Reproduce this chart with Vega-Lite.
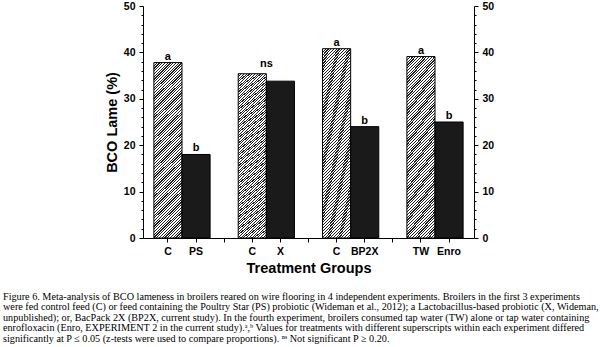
{
  "$schema": "https://vega.github.io/schema/vega-lite/v6.json",
  "width": 331,
  "height": 232,
  "autosize": {"type": "none"},
  "padding": {"left": 143, "top": 6, "right": 126, "bottom": 109},
  "background": "white",
  "config": {
    "view": {"stroke": null},
    "font": "Liberation Sans",
    "axis": {
      "domainColor": "black",
      "tickColor": "black",
      "labelColor": "black",
      "titleColor": "black",
      "labelFont": "Liberation Sans",
      "titleFont": "Liberation Sans",
      "labelFontWeight": "bold",
      "titleFontWeight": "bold",
      "labelFontSize": 10.5,
      "titleFontSize": 14.5,
      "grid": false,
      "domainWidth": 1,
      "tickWidth": 1
    }
  },
  "title": {
    "text": [
      "Figure 6. Meta-analysis of BCO lameness in broilers reared on wire flooring in 4 independent experiments. Broilers in the first 3 experiments",
      "were fed control feed (C) or feed containing the Poultry Star (PS) probiotic (Wideman et al., 2012); a Lactobacillus-based probiotic (X, Wideman,",
      "unpublished); or, BacPack 2X (BP2X, current study). In the fourth experiment, broilers consumed tap water (TW) alone or tap water containing",
      "enrofloxacin (Enro, EXPERIMENT 2 in the current study).ᵃ,ᵇ Values for treatments with different superscripts within each experiment differed",
      "significantly at P ≤ 0.05 (z-tests were used to compare proportions). ⁿˢ Not significant P ≥ 0.20."
    ],
    "orient": "bottom",
    "anchor": "start",
    "frame": "group",
    "font": "Liberation Serif",
    "fontSize": 10.2,
    "fontWeight": "normal",
    "color": "black",
    "lineHeight": 10.4,
    "offset": 17,
    "dx": -140
  },
  "data": {
    "values": [
      {"slot": "C1", "group": "control", "value": 37.8, "sig": "a"},
      {"slot": "PS", "group": "treated", "value": 18.0, "sig": "b"},
      {"slot": "C2", "group": "control", "value": 35.4, "sig": "ns"},
      {"slot": "X", "group": "treated", "value": 33.8, "sig": ""},
      {"slot": "C3", "group": "control", "value": 40.8, "sig": "a"},
      {"slot": "BP2X", "group": "treated", "value": 24.0, "sig": "b"},
      {"slot": "TW", "group": "control", "value": 39.1, "sig": "a"},
      {"slot": "Enro", "group": "treated", "value": 25.0, "sig": "b"}
    ]
  },
  "encoding": {
    "x": {
      "field": "slot",
      "type": "nominal",
      "sort": null,
      "scale": {
        "domain": ["C1", "PS", "g1", "C2", "X", "g2", "C3", "BP2X", "g3", "TW", "Enro"],
        "paddingInner": 0,
        "paddingOuter": 0.387
      },
      "axis": {
        "title": "Treatment Groups",
        "labelAngle": 0,
        "labelExpr": "indexof(datum.value,'g')==0 ? '' : (indexof(datum.value,'C')==0 ? 'C' : datum.value)",
        "tickSize": 4,
        "labelPadding": 4,
        "titlePadding": 5
      }
    }
  },
  "layer": [
    {
      "transform": [{"filter": "datum.group == 'control'"}],
      "mark": {
        "type": "bar",
        "stroke": "black",
        "strokeWidth": 1,
        "fill": {
          "gradient": "linear",
          "x1": 0, "y1": 0, "x2": 0.1924, "y2": 1.212,
          "stops": [
            {"offset":0,"color":"#222"},{"offset":0.0055,"color":"#222"},{"offset":0.0055,"color":"#fff"},{"offset":0.0125,"color":"#fff"},
            {"offset":0.0125,"color":"#222"},{"offset":0.018,"color":"#222"},{"offset":0.018,"color":"#fff"},{"offset":0.025,"color":"#fff"},
            {"offset":0.025,"color":"#222"},{"offset":0.0305,"color":"#222"},{"offset":0.0305,"color":"#fff"},{"offset":0.0375,"color":"#fff"},
            {"offset":0.0375,"color":"#222"},{"offset":0.043,"color":"#222"},{"offset":0.043,"color":"#fff"},{"offset":0.05,"color":"#fff"},
            {"offset":0.05,"color":"#222"},{"offset":0.0555,"color":"#222"},{"offset":0.0555,"color":"#fff"},{"offset":0.0625,"color":"#fff"},
            {"offset":0.0625,"color":"#222"},{"offset":0.068,"color":"#222"},{"offset":0.068,"color":"#fff"},{"offset":0.075,"color":"#fff"},
            {"offset":0.075,"color":"#222"},{"offset":0.0805,"color":"#222"},{"offset":0.0805,"color":"#fff"},{"offset":0.0875,"color":"#fff"},
            {"offset":0.0875,"color":"#222"},{"offset":0.093,"color":"#222"},{"offset":0.093,"color":"#fff"},{"offset":0.1,"color":"#fff"},
            {"offset":0.1,"color":"#222"},{"offset":0.1055,"color":"#222"},{"offset":0.1055,"color":"#fff"},{"offset":0.1125,"color":"#fff"},
            {"offset":0.1125,"color":"#222"},{"offset":0.118,"color":"#222"},{"offset":0.118,"color":"#fff"},{"offset":0.125,"color":"#fff"},
            {"offset":0.125,"color":"#222"},{"offset":0.1305,"color":"#222"},{"offset":0.1305,"color":"#fff"},{"offset":0.1375,"color":"#fff"},
            {"offset":0.1375,"color":"#222"},{"offset":0.143,"color":"#222"},{"offset":0.143,"color":"#fff"},{"offset":0.15,"color":"#fff"},
            {"offset":0.15,"color":"#222"},{"offset":0.1555,"color":"#222"},{"offset":0.1555,"color":"#fff"},{"offset":0.1625,"color":"#fff"},
            {"offset":0.1625,"color":"#222"},{"offset":0.168,"color":"#222"},{"offset":0.168,"color":"#fff"},{"offset":0.175,"color":"#fff"},
            {"offset":0.175,"color":"#222"},{"offset":0.1805,"color":"#222"},{"offset":0.1805,"color":"#fff"},{"offset":0.1875,"color":"#fff"},
            {"offset":0.1875,"color":"#222"},{"offset":0.193,"color":"#222"},{"offset":0.193,"color":"#fff"},{"offset":0.2,"color":"#fff"},
            {"offset":0.2,"color":"#222"},{"offset":0.2055,"color":"#222"},{"offset":0.2055,"color":"#fff"},{"offset":0.2125,"color":"#fff"},
            {"offset":0.2125,"color":"#222"},{"offset":0.218,"color":"#222"},{"offset":0.218,"color":"#fff"},{"offset":0.225,"color":"#fff"},
            {"offset":0.225,"color":"#222"},{"offset":0.2305,"color":"#222"},{"offset":0.2305,"color":"#fff"},{"offset":0.2375,"color":"#fff"},
            {"offset":0.2375,"color":"#222"},{"offset":0.243,"color":"#222"},{"offset":0.243,"color":"#fff"},{"offset":0.25,"color":"#fff"},
            {"offset":0.25,"color":"#222"},{"offset":0.2555,"color":"#222"},{"offset":0.2555,"color":"#fff"},{"offset":0.2625,"color":"#fff"},
            {"offset":0.2625,"color":"#222"},{"offset":0.268,"color":"#222"},{"offset":0.268,"color":"#fff"},{"offset":0.275,"color":"#fff"},
            {"offset":0.275,"color":"#222"},{"offset":0.2805,"color":"#222"},{"offset":0.2805,"color":"#fff"},{"offset":0.2875,"color":"#fff"},
            {"offset":0.2875,"color":"#222"},{"offset":0.293,"color":"#222"},{"offset":0.293,"color":"#fff"},{"offset":0.3,"color":"#fff"},
            {"offset":0.3,"color":"#222"},{"offset":0.3055,"color":"#222"},{"offset":0.3055,"color":"#fff"},{"offset":0.3125,"color":"#fff"},
            {"offset":0.3125,"color":"#222"},{"offset":0.318,"color":"#222"},{"offset":0.318,"color":"#fff"},{"offset":0.325,"color":"#fff"},
            {"offset":0.325,"color":"#222"},{"offset":0.3305,"color":"#222"},{"offset":0.3305,"color":"#fff"},{"offset":0.3375,"color":"#fff"},
            {"offset":0.3375,"color":"#222"},{"offset":0.343,"color":"#222"},{"offset":0.343,"color":"#fff"},{"offset":0.35,"color":"#fff"},
            {"offset":0.35,"color":"#222"},{"offset":0.3555,"color":"#222"},{"offset":0.3555,"color":"#fff"},{"offset":0.3625,"color":"#fff"},
            {"offset":0.3625,"color":"#222"},{"offset":0.368,"color":"#222"},{"offset":0.368,"color":"#fff"},{"offset":0.375,"color":"#fff"},
            {"offset":0.375,"color":"#222"},{"offset":0.3805,"color":"#222"},{"offset":0.3805,"color":"#fff"},{"offset":0.3875,"color":"#fff"},
            {"offset":0.3875,"color":"#222"},{"offset":0.393,"color":"#222"},{"offset":0.393,"color":"#fff"},{"offset":0.4,"color":"#fff"},
            {"offset":0.4,"color":"#222"},{"offset":0.4055,"color":"#222"},{"offset":0.4055,"color":"#fff"},{"offset":0.4125,"color":"#fff"},
            {"offset":0.4125,"color":"#222"},{"offset":0.418,"color":"#222"},{"offset":0.418,"color":"#fff"},{"offset":0.425,"color":"#fff"},
            {"offset":0.425,"color":"#222"},{"offset":0.4305,"color":"#222"},{"offset":0.4305,"color":"#fff"},{"offset":0.4375,"color":"#fff"},
            {"offset":0.4375,"color":"#222"},{"offset":0.443,"color":"#222"},{"offset":0.443,"color":"#fff"},{"offset":0.45,"color":"#fff"},
            {"offset":0.45,"color":"#222"},{"offset":0.4555,"color":"#222"},{"offset":0.4555,"color":"#fff"},{"offset":0.4625,"color":"#fff"},
            {"offset":0.4625,"color":"#222"},{"offset":0.468,"color":"#222"},{"offset":0.468,"color":"#fff"},{"offset":0.475,"color":"#fff"},
            {"offset":0.475,"color":"#222"},{"offset":0.4805,"color":"#222"},{"offset":0.4805,"color":"#fff"},{"offset":0.4875,"color":"#fff"},
            {"offset":0.4875,"color":"#222"},{"offset":0.493,"color":"#222"},{"offset":0.493,"color":"#fff"},{"offset":0.5,"color":"#fff"},
            {"offset":0.5,"color":"#222"},{"offset":0.5055,"color":"#222"},{"offset":0.5055,"color":"#fff"},{"offset":0.5125,"color":"#fff"},
            {"offset":0.5125,"color":"#222"},{"offset":0.518,"color":"#222"},{"offset":0.518,"color":"#fff"},{"offset":0.525,"color":"#fff"},
            {"offset":0.525,"color":"#222"},{"offset":0.5305,"color":"#222"},{"offset":0.5305,"color":"#fff"},{"offset":0.5375,"color":"#fff"},
            {"offset":0.5375,"color":"#222"},{"offset":0.543,"color":"#222"},{"offset":0.543,"color":"#fff"},{"offset":0.55,"color":"#fff"},
            {"offset":0.55,"color":"#222"},{"offset":0.5555,"color":"#222"},{"offset":0.5555,"color":"#fff"},{"offset":0.5625,"color":"#fff"},
            {"offset":0.5625,"color":"#222"},{"offset":0.568,"color":"#222"},{"offset":0.568,"color":"#fff"},{"offset":0.575,"color":"#fff"},
            {"offset":0.575,"color":"#222"},{"offset":0.5805,"color":"#222"},{"offset":0.5805,"color":"#fff"},{"offset":0.5875,"color":"#fff"},
            {"offset":0.5875,"color":"#222"},{"offset":0.593,"color":"#222"},{"offset":0.593,"color":"#fff"},{"offset":0.6,"color":"#fff"},
            {"offset":0.6,"color":"#222"},{"offset":0.6055,"color":"#222"},{"offset":0.6055,"color":"#fff"},{"offset":0.6125,"color":"#fff"},
            {"offset":0.6125,"color":"#222"},{"offset":0.618,"color":"#222"},{"offset":0.618,"color":"#fff"},{"offset":0.625,"color":"#fff"},
            {"offset":0.625,"color":"#222"},{"offset":0.6305,"color":"#222"},{"offset":0.6305,"color":"#fff"},{"offset":0.6375,"color":"#fff"},
            {"offset":0.6375,"color":"#222"},{"offset":0.643,"color":"#222"},{"offset":0.643,"color":"#fff"},{"offset":0.65,"color":"#fff"},
            {"offset":0.65,"color":"#222"},{"offset":0.6555,"color":"#222"},{"offset":0.6555,"color":"#fff"},{"offset":0.6625,"color":"#fff"},
            {"offset":0.6625,"color":"#222"},{"offset":0.668,"color":"#222"},{"offset":0.668,"color":"#fff"},{"offset":0.675,"color":"#fff"},
            {"offset":0.675,"color":"#222"},{"offset":0.6805,"color":"#222"},{"offset":0.6805,"color":"#fff"},{"offset":0.6875,"color":"#fff"},
            {"offset":0.6875,"color":"#222"},{"offset":0.693,"color":"#222"},{"offset":0.693,"color":"#fff"},{"offset":0.7,"color":"#fff"},
            {"offset":0.7,"color":"#222"},{"offset":0.7055,"color":"#222"},{"offset":0.7055,"color":"#fff"},{"offset":0.7125,"color":"#fff"},
            {"offset":0.7125,"color":"#222"},{"offset":0.718,"color":"#222"},{"offset":0.718,"color":"#fff"},{"offset":0.725,"color":"#fff"},
            {"offset":0.725,"color":"#222"},{"offset":0.7305,"color":"#222"},{"offset":0.7305,"color":"#fff"},{"offset":0.7375,"color":"#fff"},
            {"offset":0.7375,"color":"#222"},{"offset":0.743,"color":"#222"},{"offset":0.743,"color":"#fff"},{"offset":0.75,"color":"#fff"},
            {"offset":0.75,"color":"#222"},{"offset":0.7555,"color":"#222"},{"offset":0.7555,"color":"#fff"},{"offset":0.7625,"color":"#fff"},
            {"offset":0.7625,"color":"#222"},{"offset":0.768,"color":"#222"},{"offset":0.768,"color":"#fff"},{"offset":0.775,"color":"#fff"},
            {"offset":0.775,"color":"#222"},{"offset":0.7805,"color":"#222"},{"offset":0.7805,"color":"#fff"},{"offset":0.7875,"color":"#fff"},
            {"offset":0.7875,"color":"#222"},{"offset":0.793,"color":"#222"},{"offset":0.793,"color":"#fff"},{"offset":0.8,"color":"#fff"},
            {"offset":0.8,"color":"#222"},{"offset":0.8055,"color":"#222"},{"offset":0.8055,"color":"#fff"},{"offset":0.8125,"color":"#fff"},
            {"offset":0.8125,"color":"#222"},{"offset":0.818,"color":"#222"},{"offset":0.818,"color":"#fff"},{"offset":0.825,"color":"#fff"},
            {"offset":0.825,"color":"#222"},{"offset":0.8305,"color":"#222"},{"offset":0.8305,"color":"#fff"},{"offset":0.8375,"color":"#fff"},
            {"offset":0.8375,"color":"#222"},{"offset":0.843,"color":"#222"},{"offset":0.843,"color":"#fff"},{"offset":0.85,"color":"#fff"},
            {"offset":0.85,"color":"#222"},{"offset":0.8555,"color":"#222"},{"offset":0.8555,"color":"#fff"},{"offset":0.8625,"color":"#fff"},
            {"offset":0.8625,"color":"#222"},{"offset":0.868,"color":"#222"},{"offset":0.868,"color":"#fff"},{"offset":0.875,"color":"#fff"},
            {"offset":0.875,"color":"#222"},{"offset":0.8805,"color":"#222"},{"offset":0.8805,"color":"#fff"},{"offset":0.8875,"color":"#fff"},
            {"offset":0.8875,"color":"#222"},{"offset":0.893,"color":"#222"},{"offset":0.893,"color":"#fff"},{"offset":0.9,"color":"#fff"},
            {"offset":0.9,"color":"#222"},{"offset":0.9055,"color":"#222"},{"offset":0.9055,"color":"#fff"},{"offset":0.9125,"color":"#fff"},
            {"offset":0.9125,"color":"#222"},{"offset":0.918,"color":"#222"},{"offset":0.918,"color":"#fff"},{"offset":0.925,"color":"#fff"},
            {"offset":0.925,"color":"#222"},{"offset":0.9305,"color":"#222"},{"offset":0.9305,"color":"#fff"},{"offset":0.9375,"color":"#fff"},
            {"offset":0.9375,"color":"#222"},{"offset":0.943,"color":"#222"},{"offset":0.943,"color":"#fff"},{"offset":0.95,"color":"#fff"},
            {"offset":0.95,"color":"#222"},{"offset":0.9555,"color":"#222"},{"offset":0.9555,"color":"#fff"},{"offset":0.9625,"color":"#fff"},
            {"offset":0.9625,"color":"#222"},{"offset":0.968,"color":"#222"},{"offset":0.968,"color":"#fff"},{"offset":0.975,"color":"#fff"},
            {"offset":0.975,"color":"#222"},{"offset":0.9805,"color":"#222"},{"offset":0.9805,"color":"#fff"},{"offset":0.9875,"color":"#fff"},
            {"offset":0.9875,"color":"#222"},{"offset":0.993,"color":"#222"},{"offset":0.993,"color":"#fff"},{"offset":1,"color":"#fff"}
          ]
        }
      },
      "encoding": {
        "y": {
          "field": "value",
          "type": "quantitative",
          "scale": {"domain": [0, 50], "nice": false, "zero": true},
          "axis": {
            "orient": "left",
            "title": "BCO Lame (%)",
            "values": [0, 2, 4, 6, 8, 10, 12, 14, 16, 18, 20, 22, 24, 26, 28, 30, 32, 34, 36, 38, 40, 42, 44, 46, 48, 50],
            "labelExpr": "datum.value % 10 === 0 ? datum.label : ''",
            "tickSize": {"condition": {"test": "datum.value % 10 === 0", "value": 4}, "value": 2},
            "labelPadding": 4,
            "titlePadding": 4
          }
        }
      }
    },
    {
      "transform": [{"filter": "datum.group == 'treated'"}],
      "mark": {"type": "bar", "fill": "#1a1a1a", "stroke": "black", "strokeWidth": 1},
      "encoding": {
        "y": {
          "field": "value",
          "type": "quantitative",
          "scale": {"domain": [0, 50], "nice": false, "zero": true},
          "axis": {
            "orient": "right",
            "title": null,
            "values": [0, 2, 4, 6, 8, 10, 12, 14, 16, 18, 20, 22, 24, 26, 28, 30, 32, 34, 36, 38, 40, 42, 44, 46, 48, 50],
            "labelExpr": "datum.value % 10 === 0 ? datum.label : ''",
            "tickSize": {"condition": {"test": "datum.value % 10 === 0", "value": 4}, "value": 2},
            "labelPadding": 4
          }
        }
      }
    },
    {
      "transform": [{"filter": "datum.sig == 'a' || datum.sig == 'b'"}],
      "mark": {"type": "text", "baseline": "alphabetic", "dy": -3, "font": "Liberation Sans", "fontWeight": "bold", "fontSize": 11, "color": "black"},
      "encoding": {
        "y": {"field": "value", "type": "quantitative", "axis": null},
        "text": {"field": "sig"}
      }
    },
    {
      "transform": [{"filter": "datum.sig == 'ns'"}],
      "mark": {"type": "text", "baseline": "alphabetic", "dy": -7, "font": "Liberation Sans", "fontWeight": "bold", "fontSize": 11, "color": "black"},
      "encoding": {
        "x": {"field": "slot", "type": "nominal", "bandPosition": 1},
        "y": {"field": "value", "type": "quantitative", "axis": null},
        "text": {"field": "sig"}
      }
    }
  ],
  "resolve": {"axis": {"y": "independent"}}
}
